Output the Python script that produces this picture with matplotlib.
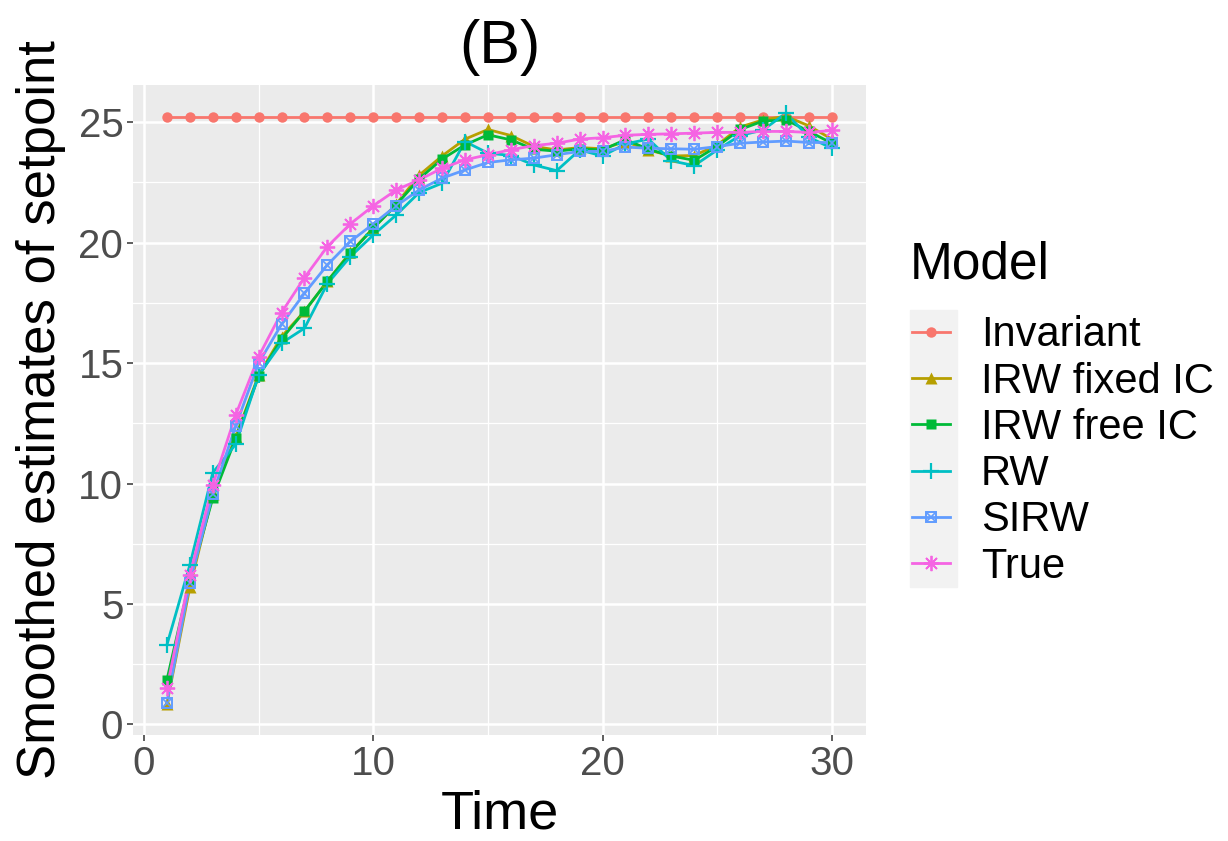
import numpy as np
import matplotlib
matplotlib.use('Agg')
import matplotlib.pyplot as plt
from matplotlib.lines import Line2D
from matplotlib.patches import Rectangle
from matplotlib.ticker import MultipleLocator

plt.rcParams['font.family'] = ['Liberation Sans', 'DejaVu Sans']

# valeurs
time = np.arange(1, 31)
invariant = [25.2, 25.2, 25.2, 25.2, 25.2, 25.2, 25.2, 25.2, 25.2, 25.2,
             25.2, 25.2, 25.2, 25.2, 25.2, 25.2, 25.2, 25.2, 25.2, 25.2,
             25.2, 25.2, 25.2, 25.2, 25.2, 25.2, 25.2, 25.2, 25.2, 25.2]
irw_fixed = [0.85, 5.7, 9.55, 11.95, 14.5, 16.1, 17.15, 18.4, 19.6, 20.6,
             21.6, 22.8, 23.6, 24.3, 24.7, 24.45, 24.0, 23.85, 23.95, 23.9,
             24.2, 23.85, 23.6, 23.62, 24.05, 24.8, 25.1, 25.25, 24.85, 24.3]
irw_free = [1.85, 6.0, 9.4, 11.88, 14.45, 16.0, 17.15, 18.4, 19.56, 20.6,
            21.57, 22.65, 23.47, 24.06, 24.48, 24.27, 23.88, 23.8, 23.9, 23.85,
            24.28, 23.88, 23.6, 23.42, 24.0, 24.7, 25.05, 25.1, 24.62, 24.13]
rw = [3.3, 6.62, 10.45, 11.63, 14.5, 15.83, 16.45, 18.3, 19.42, 20.32,
      21.15, 22.08, 22.47, 24.2, 23.72, 23.62, 23.23, 22.99, 23.85, 23.6,
      24.1, 24.3, 23.4, 23.2, 23.85, 24.45, 24.68, 25.38, 24.38, 23.92]
sirw = [0.9, 5.88, 9.56, 12.39, 15.0, 16.61, 17.9, 19.08, 20.05, 20.78,
        21.53, 22.19, 22.68, 23.02, 23.33, 23.44, 23.51, 23.65, 23.79, 23.79,
        23.97, 23.92, 23.9, 23.88, 23.99, 24.13, 24.18, 24.22, 24.16, 24.16]
true_sp = [1.5, 6.2, 9.94, 12.85, 15.27, 17.1, 18.55, 19.84, 20.78, 21.53,
           22.19, 22.61, 23.09, 23.44, 23.65, 23.86, 24.03, 24.13, 24.3, 24.36,
           24.46, 24.5, 24.52, 24.55, 24.58, 24.58, 24.62, 24.62, 24.58, 24.66]

labels = ['Invariant', 'IRW fixed IC', 'IRW free IC', 'RW', 'SIRW', 'True']
series = [invariant, irw_fixed, irw_free, rw, sirw, true_sp]
colors = ['#F8766D', '#B79F00', '#00BA38', '#00BFC4', '#619CFF', '#F564E3']
lw = 2.0

fig = plt.figure(figsize=(12.28, 8.41), dpi=100)
ax = fig.add_axes([0.1083, 0.1261, 0.5969, 0.7729])
ax.set_facecolor('#EBEBEB')

# lignes d abord, points ensuite (comme ggplot)
for y, c in zip(series, colors):
    ax.plot(time, y, color=c, lw=lw, zorder=2)


def draw_points(k, x, y, c):
    # forme de chaque modele
    if k == 0:
        ax.plot(x, y, 'o', color=c, ms=7.5, mec='none', zorder=3)
    elif k == 1:
        ax.plot(x, y, '^', color=c, ms=8, mec='none', zorder=3)
    elif k == 2:
        ax.plot(x, y, 's', color=c, ms=7.5, mec='none', zorder=3)
    elif k == 3:
        ax.plot(x, y, '+', color=c, ms=11, mew=1.6, zorder=3)
    elif k == 4:
        ax.plot(x, y, 's', mfc='none', mec=c, ms=7.5, mew=1.4, zorder=3)
        ax.plot(x, y, 'x', color=c, ms=6, mew=1.2, zorder=3)
    else:
        ax.plot(x, y, marker=(8, 2, 0), ls='none', color=c, ms=11, mew=1.3, zorder=3)


for k, (y, c) in enumerate(zip(series, colors)):
    draw_points(k, time, y, c)

ax.set_xlim(-0.48, 31.49)
ax.set_ylim(-0.44, 26.55)
ax.xaxis.set_major_locator(MultipleLocator(10))
ax.xaxis.set_minor_locator(MultipleLocator(5))
ax.yaxis.set_major_locator(MultipleLocator(5))
ax.yaxis.set_minor_locator(MultipleLocator(2.5))
ax.grid(which='major', color='white', lw=1.8, zorder=0)
ax.grid(which='minor', color='white', lw=0.9, zorder=0)
ax.set_axisbelow(True)
for s in ax.spines.values():
    s.set_visible(False)
ax.tick_params(which='major', length=4, width=1.1, color='#333333',
               labelcolor='#4D4D4D', labelsize=29, pad=3)
ax.tick_params(which='minor', length=0)

ax.set_xlabel('Time', fontsize=39, labelpad=5)
ax.set_ylabel('Smoothed estimates of setpoint', fontsize=38, labelpad=9)
ax.set_title('(B)', fontsize=44, pad=16)

# legende
handles = []
for k, c in enumerate(colors):
    if k == 0:
        h = Line2D([], [], color=c, lw=lw, marker='o', ms=7.5, mec='none')
    elif k == 1:
        h = Line2D([], [], color=c, lw=lw, marker='^', ms=8, mec='none')
    elif k == 2:
        h = Line2D([], [], color=c, lw=lw, marker='s', ms=7.5, mec='none')
    elif k == 3:
        h = Line2D([], [], color=c, lw=lw, marker='+', ms=11, mew=1.6)
    elif k == 4:
        h = (Line2D([], [], color=c, lw=lw, marker='s', mfc='none', mec=c, ms=7.5, mew=1.4),
             Line2D([], [], color=c, lw=0, marker='x', ms=6, mew=1.2))
    else:
        h = Line2D([], [], color=c, lw=lw, marker=(8, 2, 0), ms=11, mew=1.3)
    handles.append(h)

fig.add_artist(Rectangle((910 / 1228, 1 - 587 / 841), 47 / 1228, 277 / 841,
                         transform=fig.transFigure, color='#F2F2F2', zorder=0))
fig.text(910 / 1228, 1 - 265 / 841, 'Model', fontsize=37, va='center', ha='left')
leg = fig.legend(handles, labels, loc='upper left',
                 bbox_to_anchor=(904 / 1228, 1 - 307 / 841),
                 frameon=False, fontsize=30,
                 handlelength=0.9, handletextpad=0.75, labelspacing=0.15,
                 borderpad=0.2, borderaxespad=0)

fig.savefig('out.png', dpi=100)
